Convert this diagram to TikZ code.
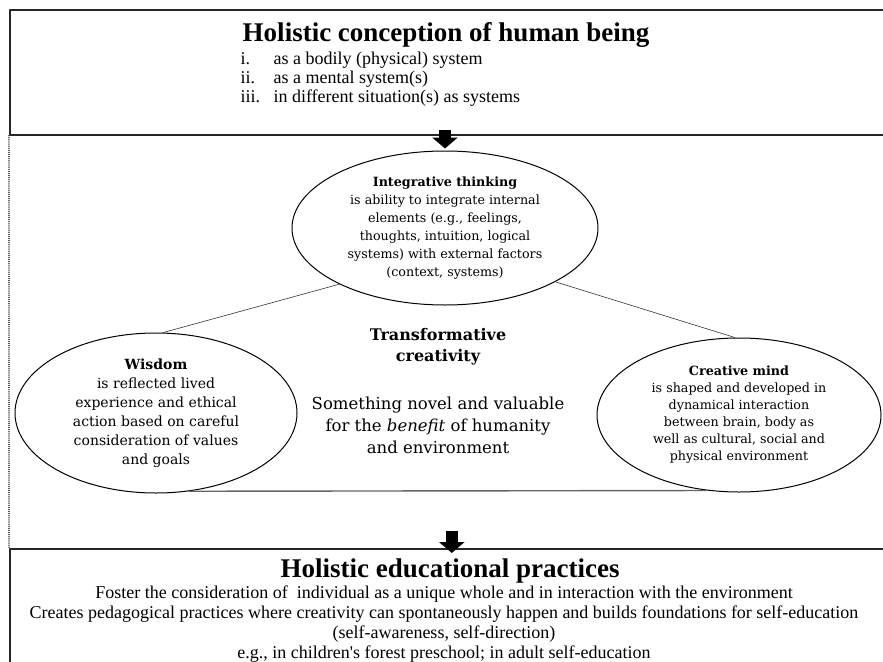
\documentclass[tikz,border=0pt]{standalone}
\usepackage{fontspec}
\setmainfont{Liberation Serif}
\newfontfamily\ovalfont{DejaVu Serif}
\usetikzlibrary{shapes.geometric,arrows.meta}

\begin{document}
\begin{tikzpicture}[
	x=1pt,
	y=-1pt,
	line cap=round,
	line join=round,
	frame/.style={draw=black!85, line width=1.6pt, anchor=north west, inner sep=0pt},
	oval/.style={draw, ellipse, line width=1pt, inner sep=0pt, align=center},
	blockarrow/.style={line width=12pt, line cap=butt, -{Triangle[width=25pt,length=11pt]}},
	link/.style={draw=black!80, line width=0.6pt},
	heading/.style={font=\fontsize{27}{32}\selectfont\bfseries},
	toptext/.style={anchor=base west, font=\fontsize{18}{19}\selectfont},
	bottext/.style={anchor=base, font=\fontsize{18}{20}\selectfont}
	]
	\useasboundingbox (0,0) rectangle (883,661);
	\clip (0,0) rectangle (883,661);
	
	% Top box
	\node[frame, minimum width=884, minimum height=125] (topbox) at (9,9) {};
	\node[heading, anchor=base] (toptitle) at (446,42) {Holistic conception of human being};
	\node[toptext] (num1) at (237,64) {i.};
	\node[toptext] (num2) at (237,83) {ii.};
	\node[toptext] (num3) at (237,102) {iii.};
	\node[toptext] (item1) at (270,64) {as a bodily (physical) system};
	\node[toptext] (item2) at (270,83) {as a mental system(s)};
	\node[toptext] (item3) at (270,102) {in different situation(s) as systems};
	
	% Ellipses
	\node[oval, minimum width=306, minimum height=154,
		font=\ovalfont\fontsize{12.7}{18}\selectfont] (integ) at (445,228)
		{\textbf{Integrative thinking}\\is ability to integrate internal\\elements (e.g., feelings,\\thoughts, intuition, logical\\systems) with external factors\\(context, systems)};
	\node[oval, minimum width=282, minimum height=160,
		font=\ovalfont\fontsize{14}{19}\selectfont] (wisdom) at (156,413)
		{\textbf{Wisdom}\\is reflected lived\\experience and ethical\\action based on careful\\consideration of values\\and goals};
	\node[oval, minimum width=284, minimum height=154,
		font=\ovalfont\fontsize{12.7}{17}\selectfont] (creative) at (739,415)
		{\textbf{Creative mind}\\is shaped and developed in\\dynamical interaction\\between brain, body as\\well as cultural, social and\\physical environment};
	
	% Triangle
	\draw[link] (wisdom.85) -- (integ.208);
	\draw[link] (integ.334) -- (creative.93);
	\draw[link, draw=black!60, line width=1.4pt] (wisdom.293) -- (creative.247);
	
	% Centre
	\node[align=center, font=\ovalfont\bfseries\fontsize{16}{21}\selectfont] (transf) at (438,347)
		{Transformative\\creativity};
	\node[align=center, font=\ovalfont\fontsize{16.5}{22}\selectfont] (novel) at (438,425)
		{Something novel and valuable\\for the \textit{benefit} of humanity\\and environment};
	
	% Bottom box
	\node[frame, minimum width=884, minimum height=150] (botbox) at (9,548) {};
	\node[heading, anchor=base] (bottitle) at (450,577) {Holistic educational practices};
	\node[bottext] (line1) at (444,598) {Foster the consideration of\ \ individual as a unique whole and in interaction with the environment};
	\node[bottext] (line2) at (444,618) {Creates pedagogical practices where creativity can spontaneously happen and builds foundations for self-education};
	\node[bottext] (line3) at (444,638) {(self-awareness, self-direction)};
	\node[bottext] (line4) at (444,658) {e.g., in children\textquotesingle s forest preschool; in adult self-education};
	
	% Arrows and dotted side
	\draw[blockarrow] ([yshift=6pt]integ.north |- topbox.south) -- ([yshift=2pt]integ.north);
	\draw[blockarrow] ([yshift=17pt]botbox.north) -- ([yshift=-5pt]botbox.north);
	\draw[black!80, line width=1.2pt, dash pattern=on 0.1pt off 2pt] (topbox.south west) -- (botbox.north west);
\end{tikzpicture}
\end{document}
